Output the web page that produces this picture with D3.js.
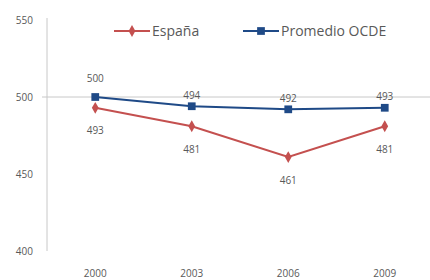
<!DOCTYPE html>
<html>
<head>
<meta charset="utf-8">
<script src="https://cdn.jsdelivr.net/npm/d3@7"></script>
<style>
  body { margin: 0; background: #fff; }
  text { font-family: "Open Sans", sans-serif; fill: #595959; }
</style>
</head>
<body>
<svg width="430" height="280"></svg>
<script>
var years = ["2000", "2003", "2006", "2009"];
var espana = [493, 481, 461, 481];
var ocde = [500, 494, 492, 493];
var yTicks = [400, 450, 500, 550];

var series = [
    { name: "España", values: espana, color: "#c4504f", marker: "diamond", labelPos: "below" },
    { name: "Promedio OCDE", values: ocde, color: "#1f4a87", marker: "square", labelPos: "above" }
];

var svg = d3.select("svg");

var x = d3.scalePoint()
    .domain(years)
    .range([47, 433])
    .padding(0.5);

var y = d3.scaleLinear()
    .domain([400, 550])
    .range([251, 20]);

// vertical axis
svg.append("line")
    .attr("x1", 47).attr("x2", 47)
    .attr("y1", y(550) - 2).attr("y2", y(400))
    .attr("stroke", "#c8c8c8");

svg.selectAll(".ytick")
    .data(yTicks)
    .enter().append("text")
    .attr("class", "ytick")
    .attr("x", 33)
    .attr("y", function (d) { return y(d); })
    .attr("dy", "0.35em")
    .attr("text-anchor", "end")
    .style("font-size", "10px")
    .text(function (d) { return d; });

// horizontal axis crosses at 500
svg.append("line")
    .attr("x1", 42).attr("x2", 430)
    .attr("y1", y(500)).attr("y2", y(500))
    .attr("stroke", "#c8c8c8");

svg.selectAll(".xtick")
    .data(years)
    .enter().append("text")
    .attr("class", "xtick")
    .attr("x", function (d) { return x(d); })
    .attr("y", 273)
    .attr("dy", "0.35em")
    .attr("text-anchor", "middle")
    .style("font-size", "10px")
    .text(function (d) { return d; });

var line = d3.line()
    .x(function (d, i) { return x(years[i]); })
    .y(function (d) { return y(d); });

var diamond = d3.symbol().type(d3.symbolDiamond).size(40);
var square = d3.symbol().type(d3.symbolSquare).size(60);

// label offset; a label sitting on the 500 axis line is pushed higher
function labelOffset(s, d) {
    if (s.labelPos === "below") return 23;
    return d >= 500 ? -19 : -11;
}

series.forEach(function (s) {
    svg.append("path")
        .datum(s.values)
        .attr("d", line)
        .attr("fill", "none")
        .attr("stroke", s.color)
        .attr("stroke-width", 2);

    svg.selectAll(".pt-" + s.marker)
        .data(s.values)
        .enter().append("path")
        .attr("class", "pt-" + s.marker)
        .attr("d", s.marker === "square" ? square : diamond)
        .attr("transform", function (d, i) { return "translate(" + x(years[i]) + "," + y(d) + ")"; })
        .attr("fill", s.color);

    svg.selectAll(".lbl-" + s.marker)
        .data(s.values)
        .enter().append("text")
        .attr("class", "lbl-" + s.marker)
        .attr("x", function (d, i) { return x(years[i]); })
        .attr("y", function (d) { return y(d) + labelOffset(s, d); })
        .attr("dy", "0.35em")
        .attr("text-anchor", "middle")
        .style("font-size", "10px")
        .text(function (d) { return d; });
});

// legend
var legendX = [114, 243];
var legend = svg.selectAll(".legend")
    .data(series)
    .enter().append("g")
    .attr("class", "legend")
    .attr("transform", function (d, i) { return "translate(" + legendX[i] + ",31)"; });

legend.append("line")
    .attr("x1", 0).attr("x2", 36)
    .attr("stroke", function (d) { return d.color; })
    .attr("stroke-width", 2);

legend.append("path")
    .attr("d", function (d) { return d.marker === "square" ? square() : diamond(); })
    .attr("transform", "translate(18,0)")
    .attr("fill", function (d) { return d.color; });

legend.append("text")
    .attr("x", 38)
    .attr("dy", "0.35em")
    .style("font-size", "14px")
    .text(function (d) { return d.name; });
</script>
</body>
</html>
